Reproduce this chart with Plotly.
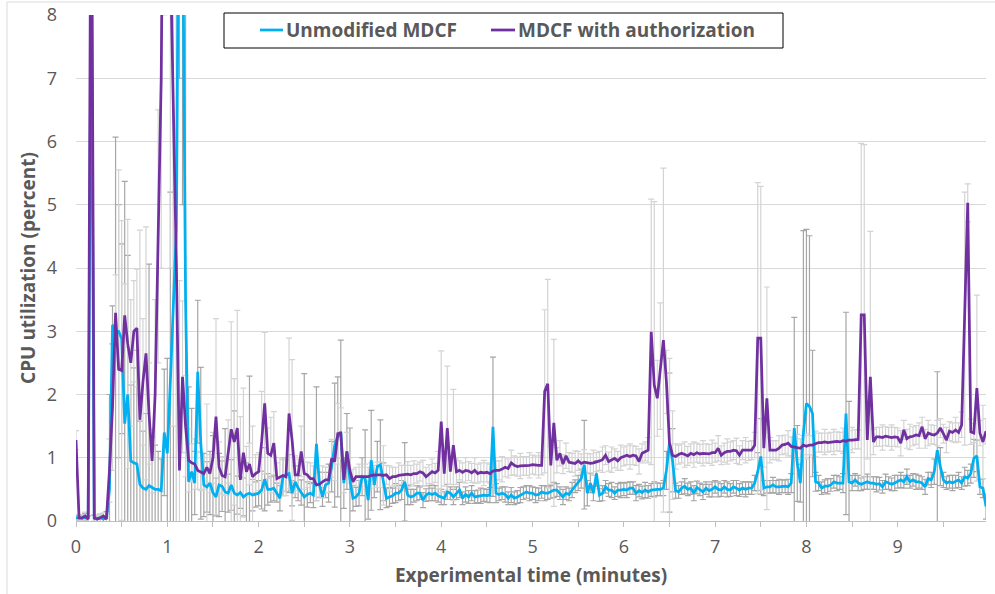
import plotly.graph_objects as go

# sampling: one value every 2 seconds over 10 minutes
seconds = list(range(0, 600, 2))
minutes = [s / 60 for s in seconds]

unmodified = [
    0.05, 0.04, 0.04, 0.06, 0.03, 9.0, 0.04, 0.03, 0.05, 0.03,
    0.05, 0.5, 3.1, 3.0, 3.0, 2.88, 1.54, 2.0, 0.95, 0.92,
    0.9, 0.58, 0.52, 0.5, 0.56, 0.53, 0.5, 0.5, 0.48, 1.4,
    1.07, 2.2, 3.3, 4.65, 12.0, 10.0, 3.5, 0.62, 0.78, 0.6,
    2.36, 1.23, 0.57, 0.54, 0.6, 0.45, 0.38, 0.57, 0.55, 0.46,
    0.44, 0.57, 0.44, 0.41, 0.45, 0.38, 0.42, 0.44, 0.41, 0.42,
    0.44, 0.49, 0.66, 0.5, 0.5, 0.52, 0.45, 0.36, 0.7, 0.72,
    0.75, 0.44, 0.62, 0.52, 0.45, 0.38, 0.42, 0.44, 0.41, 1.22,
    0.57, 0.38, 0.57, 0.6, 0.86, 1.2, 1.33, 1.41, 0.6, 1.1,
    0.65, 0.36, 0.38, 0.44, 0.7, 0.67, 0.33, 0.96, 0.57, 0.86,
    0.89, 0.62, 0.36, 0.38, 0.4, 0.44, 0.44, 0.49, 0.62, 0.41,
    0.38, 0.4, 0.44, 0.44, 0.33, 0.41, 0.44, 0.42, 0.44, 0.4,
    0.38, 0.36, 0.46, 0.44, 0.38, 0.44, 0.49, 0.36, 0.42, 0.38,
    0.44, 0.38, 0.39, 0.4, 0.41, 0.4, 0.41, 1.49, 0.44, 0.42,
    0.44, 0.42, 0.36, 0.41, 0.36, 0.38, 0.41, 0.44, 0.46, 0.44,
    0.44, 0.41, 0.42, 0.46, 0.44, 0.44, 0.46, 0.49, 0.49, 0.44,
    0.38, 0.44, 0.42, 0.49, 0.55, 0.6, 0.67, 0.89, 0.44, 0.6,
    0.44, 0.75, 0.41, 0.44, 0.54, 0.49, 0.49, 0.44, 0.49, 0.49,
    0.5, 0.49, 0.52, 0.52, 0.44, 0.48, 0.45, 0.49, 0.46, 0.49,
    0.5, 0.5, 0.5, 0.52, 0.8, 1.24, 0.96, 0.48, 0.46, 0.52,
    0.55, 0.5, 0.52, 0.44, 0.53, 0.5, 0.46, 0.52, 0.48, 0.5,
    0.54, 0.5, 0.49, 0.54, 0.5, 0.49, 0.54, 0.52, 0.49, 0.52,
    0.5, 0.52, 0.52, 0.6, 0.78, 1.02, 0.52, 0.54, 0.54, 0.57,
    0.54, 0.54, 0.55, 0.55, 0.54, 0.6, 1.47, 0.91, 0.6, 1.39,
    1.86, 1.81, 1.7, 0.62, 0.6, 0.52, 0.55, 0.55, 0.57, 0.62,
    0.6, 0.6, 0.6, 1.7, 0.62, 0.6, 0.65, 0.6, 0.58, 0.6,
    0.62, 0.6, 0.6, 0.58, 0.59, 0.54, 0.62, 0.6, 0.58, 0.6,
    0.62, 0.65, 0.62, 0.7, 0.62, 0.65, 0.62, 0.62, 0.6, 0.54,
    0.67, 0.65, 0.78, 1.12, 0.86, 0.65, 0.6, 0.62, 0.6, 0.62,
    0.65, 0.6, 0.7, 0.68, 0.75, 0.99, 1.03, 0.54, 0.52, 0.23,
]

authorization = [
    1.28, 0.05, 0.05, 0.08, 0.03, 12.0, 0.05, 0.03, 0.05, 0.08,
    0.03, 0.8, 1.8, 3.29, 2.4, 2.38, 3.25, 2.8, 2.5, 3.0,
    3.05, 1.6, 2.2, 2.65, 1.7, 0.95, 2.0, 4.5, 7.0, 13.0,
    14.0, 9.0, 6.5, 4.0, 0.8, 2.28, 1.5, 0.96, 0.92, 0.9,
    0.8, 0.78, 0.75, 0.85, 0.75, 1.0, 1.65, 0.85, 0.72, 0.7,
    1.1, 1.45, 1.25, 1.47, 0.65, 1.08, 0.78, 0.9, 0.7, 0.75,
    0.78, 1.25, 1.86, 1.07, 1.04, 1.23, 0.67, 0.7, 0.72, 0.7,
    1.7, 1.28, 0.73, 0.73, 1.1, 0.75, 0.73, 0.67, 0.67, 0.57,
    0.58, 0.62, 0.65, 0.65, 0.99, 0.94, 1.38, 1.39, 0.65, 1.1,
    0.8, 0.62, 0.7, 0.7, 0.7, 0.7, 0.7, 0.72, 0.73, 0.73,
    0.73, 0.72, 0.73, 0.67, 0.7, 0.7, 0.72, 0.73, 0.73, 0.74,
    0.73, 0.75, 0.75, 0.78, 0.76, 0.7, 0.74, 0.78, 0.76, 0.8,
    1.57, 0.75, 1.47, 0.78, 1.2, 0.78, 0.8, 0.77, 0.8, 0.79,
    0.76, 0.8, 0.75, 0.77, 0.76, 0.77, 0.75, 0.79, 0.8, 0.8,
    0.82, 0.85, 0.83, 0.92, 0.88, 0.86, 0.87, 0.87, 0.87, 0.88,
    0.89, 0.88, 0.88, 0.88, 2.05, 2.17, 0.88, 1.55, 0.96, 1.07,
    0.9, 1.03, 0.93, 0.92, 0.91, 0.95, 0.91, 0.93, 0.92, 0.91,
    0.92, 0.93, 0.95, 0.97, 1.04, 0.94, 0.97, 0.99, 0.95, 1.0,
    1.02, 1.04, 1.02, 1.04, 1.03, 0.94, 1.07, 1.1, 1.12, 2.99,
    2.15, 1.94, 2.45, 2.86, 2.2, 1.23, 1.04, 1.02, 1.05, 1.07,
    1.05, 1.03, 1.07, 1.05, 1.08, 1.06, 1.07, 1.07, 1.06, 1.08,
    1.08, 1.15, 1.04, 1.08, 1.1, 1.1, 1.12, 1.11, 1.04, 1.12,
    1.12, 1.11, 1.12, 1.2, 2.89, 2.89, 1.15, 1.94, 1.12, 1.12,
    1.12, 1.15, 1.2, 1.21, 1.23, 1.18, 1.17, 1.17, 1.15, 1.2,
    1.18, 1.2, 1.2, 1.22, 1.24, 1.24, 1.25, 1.24, 1.25, 1.25,
    1.26, 1.25, 1.27, 1.26, 1.28, 1.28, 1.29, 1.29, 3.26, 3.26,
    1.28, 2.28, 1.25, 1.33, 1.33, 1.32, 1.34, 1.33, 1.32, 1.33,
    1.32, 1.23, 1.44, 1.3, 1.33, 1.34, 1.36, 1.35, 1.49, 1.3,
    1.39, 1.37, 1.36, 1.39, 1.47, 1.38, 1.28, 1.42, 1.4, 1.44,
    1.4, 1.52, 3.2, 5.03, 1.41, 1.39, 2.1, 1.39, 1.25, 1.42,
]

unmodified_err = [
    0.05, 0.04, 0.05, 0.06, 0.05, 3.0, 0.05, 0.04, 0.06, 0.05,
    0.1, 1.5, 0.3, 3.07, 2.0, 1.5, 3.83, 2.2, 1.2, 1.5,
    1.8, 1.0, 0.9, 1.2, 3.5, 0.8, 0.7, 0.6, 0.5, 1.0,
    1.5, 3.0, 5.0, 5.0, 5.0, 5.0, 5.0, 1.5, 1.0, 0.5,
    1.13, 1.2, 0.5, 0.4, 0.5, 0.9, 0.3, 0.5, 0.4, 1.0,
    0.3, 0.4, 1.3, 0.3, 0.25, 0.3, 0.5, 1.85, 0.25, 0.2,
    0.2, 0.3, 0.5, 0.25, 0.2, 0.2, 0.15, 0.2, 0.3, 0.25,
    0.3, 0.2, 0.25, 0.2, 0.2, 1.95, 0.2, 0.15, 0.2, 0.9,
    0.2, 0.15, 0.2, 0.3, 0.4, 0.98, 0.95, 1.45, 0.4, 0.6,
    0.82, 0.2, 0.15, 0.2, 0.3, 0.77, 0.3, 0.79, 0.2, 0.4,
    0.71, 0.3, 0.15, 0.15, 0.12, 0.15, 0.12, 0.15, 0.62, 0.15,
    0.12, 0.1, 0.12, 0.1, 0.12, 0.1, 0.12, 0.1, 0.12, 0.1,
    0.12, 0.1, 0.12, 0.1, 0.12, 0.1, 0.12, 0.1, 0.12, 0.1,
    0.12, 0.1, 0.1, 0.12, 0.1, 0.1, 0.12, 1.1, 0.15, 0.1,
    0.1, 0.12, 0.1, 0.12, 0.1, 0.1, 0.12, 0.1, 0.1, 0.12,
    0.1, 0.12, 0.1, 0.1, 0.12, 0.1, 0.1, 0.12, 0.1, 0.1,
    0.12, 0.1, 0.1, 0.12, 0.1, 0.12, 0.15, 0.7, 0.2, 0.15,
    0.12, 0.2, 0.1, 0.12, 0.1, 0.1, 0.12, 0.1, 0.1, 0.12,
    0.1, 0.12, 0.1, 0.1, 0.12, 0.1, 0.1, 0.12, 0.1, 0.1,
    0.12, 0.1, 0.1, 0.12, 0.3, 1.1, 0.5, 0.12, 0.1, 0.1,
    0.12, 0.1, 0.1, 0.12, 0.1, 0.1, 0.12, 0.1, 0.1, 0.12,
    0.1, 0.12, 0.1, 0.1, 0.12, 0.1, 0.1, 0.12, 0.1, 0.1,
    0.12, 0.1, 0.1, 0.12, 0.3, 0.6, 0.12, 0.1, 0.1, 0.12,
    0.1, 0.12, 0.1, 0.1, 0.12, 0.15, 1.75, 0.6, 0.3, 3.2,
    2.75, 2.7, 1.0, 0.15, 0.12, 0.1, 0.1, 0.12, 0.1, 0.1,
    0.12, 0.1, 0.15, 1.6, 1.27, 0.12, 0.1, 0.12, 0.1, 0.1,
    0.12, 0.1, 0.1, 0.12, 0.1, 0.1, 0.12, 0.1, 0.1, 0.12,
    0.1, 0.12, 0.1, 0.12, 0.1, 0.1, 0.12, 0.1, 0.1, 0.12,
    0.1, 0.12, 0.2, 1.24, 0.3, 0.12, 0.1, 0.1, 0.12, 0.1,
    0.12, 0.1, 0.15, 0.12, 0.15, 0.3, 0.25, 0.12, 0.15, 0.2,
]

authorization_err = [
    0.15, 0.05, 0.05, 0.06, 0.05, 3.0, 0.05, 0.05, 0.06, 0.05,
    0.05, 0.5, 1.0, 0.6, 3.15, 2.37, 0.5, 1.97, 1.0, 0.8,
    0.93, 3.0, 1.0, 2.0, 0.8, 0.5, 1.5, 2.0, 3.0, 5.0,
    5.0, 5.0, 5.0, 5.0, 3.0, 1.2, 0.8, 0.5, 0.3, 0.4,
    0.3, 0.3, 0.25, 1.0, 0.3, 0.4, 1.55, 0.4, 0.3, 0.3,
    0.5, 1.7, 1.0, 1.86, 1.0, 1.02, 0.4, 0.33, 0.8, 0.3,
    0.3, 0.8, 1.12, 0.4, 0.6, 0.5, 0.25, 0.3, 0.25, 0.3,
    1.19, 1.27, 0.3, 0.25, 0.4, 0.25, 0.2, 0.25, 0.2, 0.25,
    0.2, 0.25, 0.2, 0.2, 0.3, 0.3, 0.48, 0.4, 0.2, 0.3,
    0.2, 0.2, 0.15, 0.2, 0.15, 0.2, 0.15, 0.2, 0.15, 0.2,
    0.2, 0.47, 0.15, 0.2, 0.15, 0.15, 0.2, 0.15, 0.15, 0.2,
    0.15, 0.2, 0.15, 0.15, 0.2, 0.15, 0.15, 0.2, 0.15, 0.3,
    1.12, 0.2, 0.98, 0.2, 0.88, 0.2, 0.15, 0.15, 0.2, 0.15,
    0.15, 0.2, 0.15, 0.15, 0.2, 0.15, 0.15, 0.2, 0.15, 0.15,
    0.2, 0.15, 0.15, 0.2, 0.15, 0.15, 0.2, 0.15, 0.15, 0.2,
    0.15, 0.15, 0.2, 0.15, 1.29, 1.65, 0.3, 1.32, 0.2, 0.2,
    0.15, 0.2, 0.15, 0.15, 0.2, 0.15, 0.15, 0.2, 0.15, 0.15,
    0.2, 0.15, 0.15, 0.2, 0.15, 0.15, 0.2, 0.15, 0.15, 0.2,
    0.15, 0.15, 0.2, 0.15, 0.15, 0.2, 0.15, 0.15, 0.2, 2.1,
    2.9, 0.6, 1.0, 2.72, 0.5, 1.34, 0.7, 0.2, 0.15, 0.15,
    0.2, 0.15, 0.15, 0.2, 0.15, 0.15, 0.2, 0.15, 0.15, 0.2,
    0.15, 0.2, 0.15, 0.15, 0.2, 0.15, 0.15, 0.2, 0.15, 0.15,
    0.2, 0.15, 0.15, 0.2, 2.46, 2.4, 0.3, 1.76, 0.2, 0.15,
    0.15, 0.2, 0.15, 0.15, 0.2, 0.15, 0.15, 0.2, 0.15, 0.15,
    0.2, 0.15, 0.15, 0.2, 0.15, 0.15, 0.2, 0.15, 0.15, 0.2,
    0.15, 0.15, 0.2, 0.15, 0.15, 0.2, 0.15, 0.15, 2.71, 2.69,
    0.3, 2.3, 0.2, 0.15, 0.15, 0.2, 0.15, 0.15, 0.2, 0.15,
    0.15, 0.2, 0.15, 0.15, 0.2, 0.15, 0.15, 0.2, 0.15, 0.15,
    0.2, 0.15, 0.15, 0.2, 0.15, 0.15, 0.2, 0.15, 0.15, 0.2,
    0.15, 0.2, 2.0, 0.3, 0.2, 0.15, 1.47, 0.2, 0.58, 0.2,
]

x_ticks = [0, 1, 2, 3, 4, 5, 6, 7, 8, 9]
y_ticks = [0, 1, 2, 3, 4, 5, 6, 7, 8]
series_names = ["Unmodified MDCF", "MDCF with authorization"]

BLUE = "#00B0F0"
PURPLE = "#7030A0"
TEXT = "#595959"
FONT = "Open Sans"

fig = go.Figure()

# error bars (drawn beneath the lines)
fig.add_trace(go.Scatter(
    x=minutes, y=unmodified, mode="markers",
    marker=dict(size=1, color="rgba(0,0,0,0)"),
    error_y=dict(type="data", array=unmodified_err, symmetric=True,
                 color="#A6A6A6", thickness=1.2, width=3),
    showlegend=False, hoverinfo="skip"))
fig.add_trace(go.Scatter(
    x=minutes, y=authorization, mode="markers",
    marker=dict(size=1, color="rgba(0,0,0,0)"),
    error_y=dict(type="data", array=authorization_err, symmetric=True,
                 color="#D4D4D4", thickness=1.2, width=3),
    showlegend=False, hoverinfo="skip"))

fig.add_trace(go.Scatter(x=minutes, y=unmodified, mode="lines", name=series_names[0],
                         line=dict(color=BLUE, width=2.75)))
fig.add_trace(go.Scatter(x=minutes, y=authorization, mode="lines", name=series_names[1],
                         line=dict(color=PURPLE, width=2.75)))

# plot area in pixels: left 76, right 986, top 15, bottom 521
L, R, T, B = 76, 986, 15, 521
def px(xp):
    return (xp - L) / (R - L)
def py(yp):
    return (B - yp) / (B - T)

shapes = [
    # outer chart border (top and left edges visible)
    dict(type="line", xref="paper", yref="paper", x0=px(7), x1=px(995), y0=py(2), y1=py(2),
         line=dict(color="#D9D9D9", width=1)),
    dict(type="line", xref="paper", yref="paper", x0=px(7), x1=px(7), y0=py(2), y1=py(594),
         line=dict(color="#D9D9D9", width=1)),
    # legend box
    dict(type="rect", xref="paper", yref="paper", x0=px(224), x1=px(783), y0=py(48), y1=py(13),
         line=dict(color="#000000", width=1), fillcolor="white", layer="above"),
    dict(type="line", xref="paper", yref="paper", x0=px(260), x1=px(283), y0=py(30), y1=py(30),
         line=dict(color=BLUE, width=2.75), layer="above"),
    dict(type="line", xref="paper", yref="paper", x0=px(491), x1=px(515), y0=py(30), y1=py(30),
         line=dict(color=PURPLE, width=2.75), layer="above"),
]

annotations = [
    dict(xref="paper", yref="paper", x=px(284), y=py(30), xanchor="left", yanchor="middle",
         text="<b>" + series_names[0] + "</b>", showarrow=False,
         font=dict(family=FONT, size=19, color=TEXT)),
    dict(xref="paper", yref="paper", x=px(516), y=py(30), xanchor="left", yanchor="middle",
         text="<b>" + series_names[1] + "</b>", showarrow=False,
         font=dict(family=FONT, size=19, color=TEXT)),
]

fig.update_layout(
    width=995, height=594,
    margin=dict(l=L, r=995 - R, t=T, b=594 - B, autoexpand=False),
    plot_bgcolor="white", paper_bgcolor="white",
    showlegend=False,
    font=dict(family=FONT, color=TEXT),
    shapes=shapes, annotations=annotations,
    xaxis=dict(
        range=[0, minutes[-1]], tickvals=x_ticks, ticktext=[str(v) for v in x_ticks],
        automargin=False,
        showgrid=False, zeroline=False, showline=True, linecolor="#BFBFBF", linewidth=1,
        ticks="outside", ticklen=5, tickcolor="#BFBFBF", ticklabelstandoff=4,
        minor=dict(dtick=0.5, tick0=0, ticks="outside", ticklen=5, tickcolor="#BFBFBF", showgrid=False),
        tickfont=dict(family=FONT, size=18, color=TEXT),
        title=dict(text="<b>Experimental time (minutes)</b>", standoff=12,
                   font=dict(family=FONT, size=19, color=TEXT)),
    ),
    yaxis=dict(
        range=[0, 8], tickvals=y_ticks, automargin=False,
        showgrid=True, gridcolor="#D9D9D9", gridwidth=1,
        zeroline=False, showline=False, ticks="", ticklabelstandoff=18,
        tickfont=dict(family=FONT, size=18, color=TEXT),
        title=dict(text="<b>CPU utilization (percent)</b>", standoff=6,
                   font=dict(family=FONT, size=19, color=TEXT)),
    ),
)

fig.write_html("out.html")
